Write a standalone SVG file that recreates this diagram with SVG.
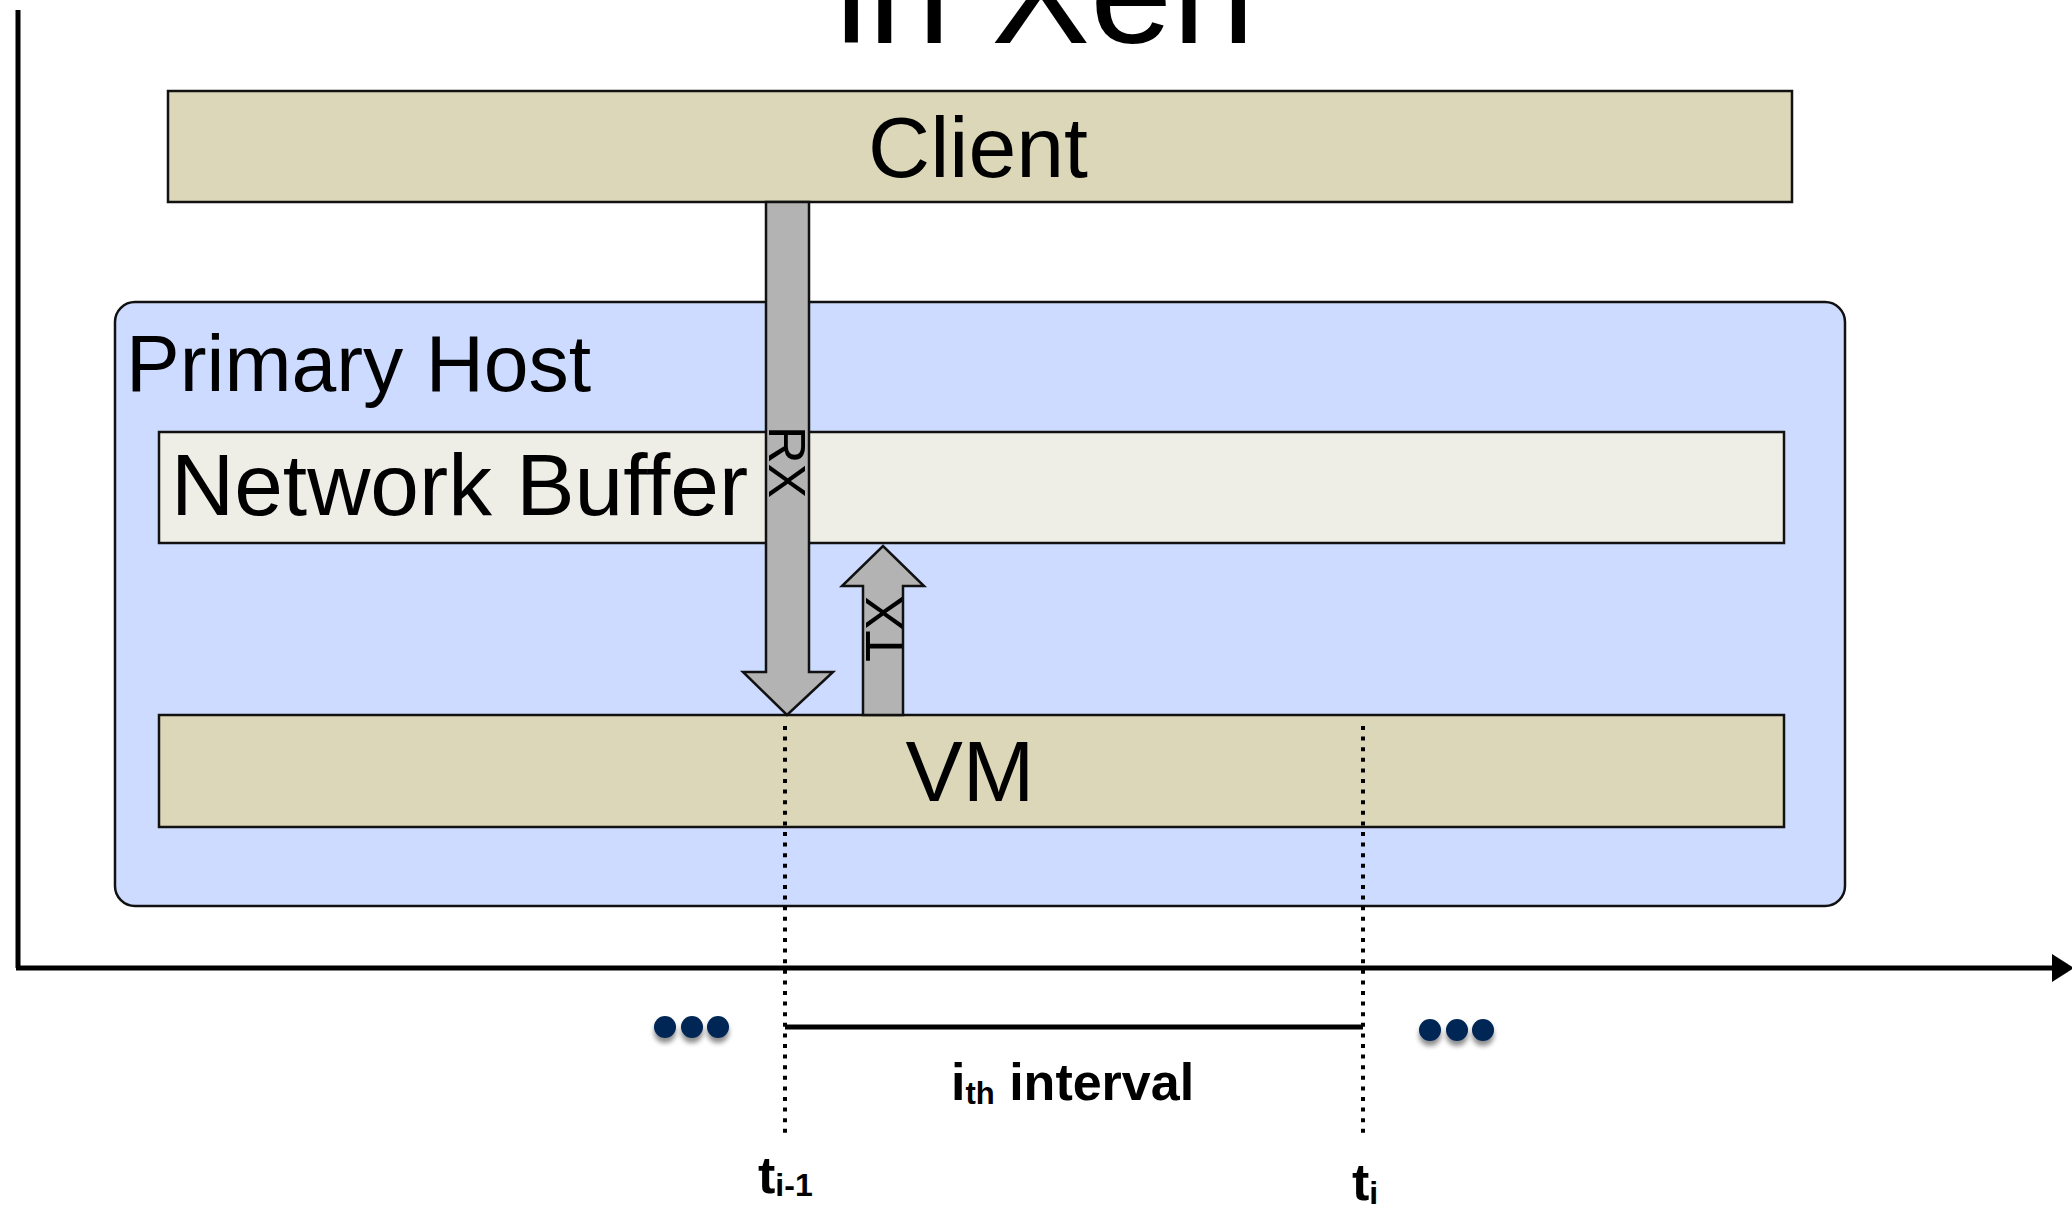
<svg xmlns="http://www.w3.org/2000/svg" width="2072" height="1210" viewBox="0 0 2072 1210">
  <style>
    .lbl { font-family: "Liberation Sans", Arial, sans-serif; fill: #000; }
    .bold { font-family: "Liberation Sans", Arial, sans-serif; font-weight: bold; fill: #000; }
    .box { stroke: #111; stroke-width: 2.5; }
    .tan { fill: #DCD7B8; }
    .pipe { fill: #B3B3B3; stroke: #111; stroke-width: 2.5; stroke-linejoin: miter; }
    .dots { fill: #002654; filter: url(#shadow); }
    .tick { stroke: #000; stroke-width: 4; stroke-dasharray: 4 6.6; fill: none; }
  </style>
  <defs>
    <filter id="shadow" x="-50%" y="-50%" width="200%" height="220%">
      <feGaussianBlur in="SourceAlpha" stdDeviation="2.5"/>
      <feOffset dx="0" dy="5" result="b"/>
      <feComponentTransfer><feFuncA type="linear" slope="0.45"/></feComponentTransfer>
      <feMerge><feMergeNode/><feMergeNode in="SourceGraphic"/></feMerge>
    </filter>
  </defs>

  <rect width="2072" height="1210" fill="#fff"/>

  <!-- title, partly off the top edge -->
  <text class="lbl" x="835" y="43" font-size="148">in Xen</text>

  <!-- time axes -->
  <g id="axes">
    <line x1="18" y1="10" x2="18" y2="968" stroke="#000" stroke-width="5"/>
    <line x1="16" y1="968" x2="2056" y2="968" stroke="#000" stroke-width="5"/>
    <polygon points="2052,954 2074,968 2052,982" fill="#000"/>
  </g>

  <g id="client">
    <rect class="box tan" x="168" y="91" width="1624" height="111"/>
    <text class="lbl" x="978" y="177" font-size="86" text-anchor="middle">Client</text>
  </g>

  <g id="primary-host">
    <rect class="box" x="115" y="302" width="1730" height="604" rx="20" ry="20" fill="#CCDBFF"/>
    <text class="lbl" x="126" y="391" font-size="80.5">Primary Host</text>
  </g>

  <g id="network-buffer">
    <rect class="box" x="159" y="432" width="1625" height="111" fill="#EEEDE6"/>
    <text class="lbl" x="171" y="515" font-size="87.5">Network Buffer</text>
  </g>

  <g id="vm">
    <rect class="box tan" x="159" y="715" width="1625" height="112"/>
    <text class="lbl" x="970" y="801" font-size="86" text-anchor="middle">VM</text>
  </g>

  <g id="connectors">
    <!-- RX: client down into the VM -->
    <polygon class="pipe" points="766,202 809,202 809,672 833,672 787,715 743,672 766,672"/>
    <text class="lbl" transform="translate(769,426) rotate(90)" font-size="52">RX</text>
    <!-- TX: VM up to the network buffer -->
    <polygon class="pipe" points="863,715 903,715 903,586 924,586 883,546 842,586 863,586"/>
    <text class="lbl" transform="translate(902,662) rotate(-90)" font-size="52">TX</text>

    <!-- checkpoint markers -->
    <line class="tick" x1="785" y1="726" x2="785" y2="1138"/>
    <line class="tick" x1="1363" y1="726" x2="1363" y2="1138"/>
    <line x1="785" y1="1027" x2="1363" y2="1027" stroke="#000" stroke-width="5"/>
  </g>

  <g id="ellipsis-left" class="dots">
    <circle cx="665" cy="1027" r="11"/>
    <circle cx="692" cy="1027" r="11"/>
    <circle cx="718" cy="1027" r="11"/>
  </g>
  <g id="ellipsis-right" class="dots">
    <circle cx="1430" cy="1030" r="11"/>
    <circle cx="1457" cy="1030" r="11"/>
    <circle cx="1483" cy="1030" r="11"/>
  </g>

  <g id="labels">
    <text class="bold" x="951" y="1100" font-size="52">i<tspan font-size="31" dy="4">th</tspan><tspan dy="-4"> interval</tspan></text>
    <text class="bold" x="758" y="1193" font-size="52">t<tspan font-size="32" dy="3">i-1</tspan></text>
    <text class="bold" x="1352" y="1200" font-size="52">t<tspan font-size="32" dy="4">i</tspan></text>
  </g>
</svg>
